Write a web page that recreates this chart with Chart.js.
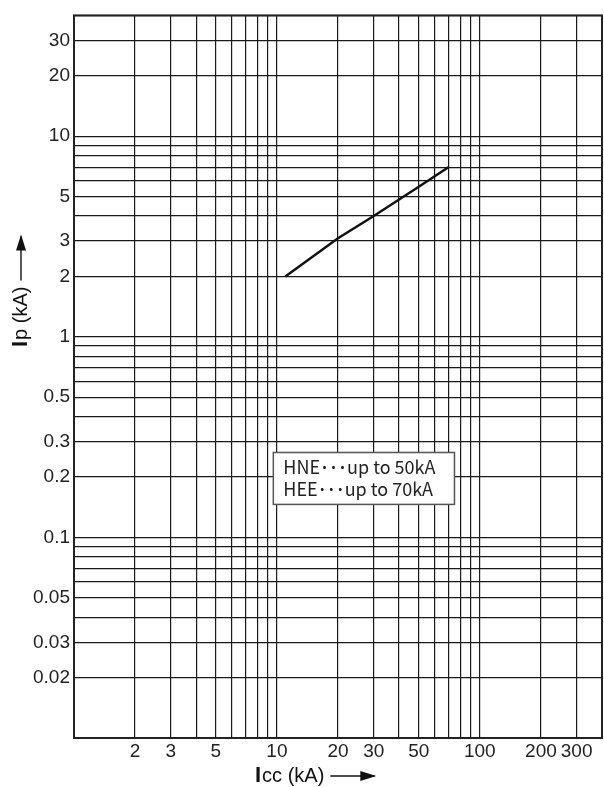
<!DOCTYPE html>
<html>
<head>
<meta charset="utf-8">
<script src="https://cdn.jsdelivr.net/npm/chart.js@4"></script>
<style>
  html, body { margin: 0; padding: 0; background: #fff; }
  #wrap { width: 604px; height: 787px; }
</style>
</head>
<body>
<div id="wrap"><canvas id="ChartContainer" width="604" height="787"></canvas></div>
<script>
// curve Ip vs Icc
const iccValues = [11, 20, 30, 50, 70];
const ipValues = [2.0, 3.1, 4.0, 5.6, 7.0];
const xTickLabels = [2, 3, 5, 10, 20, 30, 50, 100, 200, 300];
const yTickLabels = [0.02, 0.03, 0.05, 0.1, 0.2, 0.3, 0.5, 1, 2, 3, 5, 10, 20, 30];
const legendLines = ['HNE･･･up to 50kA', 'HEE･･･up to 70kA'];

const X_MIN = 1, X_MAX = 400, Y_MIN = 0.01, Y_MAX = 40;
const ink = '#1a1a1a';
const labelFont = '"Liberation Sans", Arial, sans-serif';

function gridValues(min, max) {
    var out = [];
    for (var k = -3; k <= 4; k++) {
        for (var m = 1; m <= 9; m++) {
            var v = parseFloat((m * Math.pow(10, k)).toPrecision(6));
            if (v >= min && v <= max) out.push(v);
        }
    }
    if (out[out.length - 1] !== max) out.push(max);
    return out;
}

function hasLabel(list, v) {
    return list.some(l => Math.abs(l - v) / l < 1e-6);
}

function drawArrow(ctx, x1, y1, x2, y2) {
    ctx.beginPath();
    ctx.moveTo(x1, y1);
    ctx.lineTo(x2, y2);
    ctx.lineWidth = 1.4;
    ctx.stroke();
    var a = Math.atan2(y2 - y1, x2 - x1);
    ctx.save();
    ctx.translate(x2, y2);
    ctx.rotate(a);
    ctx.beginPath();
    ctx.moveTo(2, 0);
    ctx.lineTo(-14, -5);
    ctx.lineTo(-14, 5);
    ctx.closePath();
    ctx.fill();
    ctx.restore();
}

// "I" bold + rest regular, then arrow
function drawTitle(ctx, rest) {
    ctx.font = 'bold 22px ' + labelFont;
    ctx.fillText('I', 0, 0);
    var w = ctx.measureText('I').width;
    ctx.font = '20px ' + labelFont;
    ctx.fillText(rest, w + 1, 0);
    var w2 = w + 1 + ctx.measureText(rest).width;
    drawArrow(ctx, w2 + 6, -6, w2 + 50, -6);
}

const framePlugin = {
    id: 'frame',
    afterDatasetsDraw(chart) {
        const ctx = chart.ctx;
        const area = chart.chartArea;
        const xs = chart.scales.x, ys = chart.scales.y;

        // legend box
        const bx1 = xs.getPixelForValue(9.6), bx2 = xs.getPixelForValue(75);
        const by1 = ys.getPixelForValue(0.265), by2 = ys.getPixelForValue(0.146);
        ctx.save();
        ctx.fillStyle = '#fff';
        ctx.fillRect(bx1, by1, bx2 - bx1, by2 - by1);
        ctx.strokeStyle = '#555';
        ctx.lineWidth = 1.5;
        ctx.strokeRect(bx1, by1, bx2 - bx1, by2 - by1);
        ctx.fillStyle = '#222';
        ctx.font = '18px "Noto Sans CJK JP", sans-serif';
        ctx.textBaseline = 'alphabetic';
        ctx.fillText(legendLines[0], bx1 + 10, by1 + 22);
        ctx.fillText(legendLines[1], bx1 + 10, by1 + 44);
        ctx.restore();

        // frame
        ctx.save();
        ctx.strokeStyle = '#222';
        ctx.lineWidth = 2;
        ctx.strokeRect(area.left, area.top, area.right - area.left, area.bottom - area.top);
        ctx.restore();

        // axis titles
        ctx.save();
        ctx.fillStyle = '#111';
        ctx.strokeStyle = '#111';
        ctx.textBaseline = 'alphabetic';
        ctx.translate(255, 782);
        drawTitle(ctx, 'cc (kA)');
        ctx.restore();

        ctx.save();
        ctx.fillStyle = '#111';
        ctx.strokeStyle = '#111';
        ctx.textBaseline = 'alphabetic';
        ctx.translate(27, 347);
        ctx.rotate(-Math.PI / 2);
        drawTitle(ctx, 'p (kA)');
        ctx.restore();
    }
};

new Chart(document.getElementById('ChartContainer').getContext('2d'), {
    type: 'scatter',
    data: {
        datasets: [{
            data: iccValues.map((x, i) => ({ x: x, y: ipValues[i] })),
            showLine: true,
            borderColor: '#111',
            borderWidth: 2.5,
            pointRadius: 0,
            tension: 0
        }]
    },
    options: {
        responsive: false,
        animation: false,
        devicePixelRatio: 1,
        layout: { padding: { top: 13, right: 1, left: 0, bottom: 0 } },
        plugins: {
            legend: { display: false },
            tooltip: { enabled: false }
        },
        scales: {
            x: {
                type: 'logarithmic',
                min: X_MIN,
                max: X_MAX,
                afterBuildTicks: scale => {
                    scale.ticks = gridValues(X_MIN, X_MAX).map(v => ({ value: v }));
                },
                afterFit: scale => { scale.height = 49; },
                grid: { color: ink, lineWidth: 1.2, drawTicks: false },
                border: { display: false },
                ticks: {
                    autoSkip: false,
                    maxRotation: 0,
                    padding: 2,
                    color: '#222',
                    font: { family: labelFont, size: 19 },
                    callback: value => hasLabel(xTickLabels, value) ? String(value) : ''
                }
            },
            y: {
                type: 'logarithmic',
                min: Y_MIN,
                max: Y_MAX,
                afterBuildTicks: scale => {
                    scale.ticks = gridValues(Y_MIN, Y_MAX).map(v => ({ value: v }));
                },
                afterFit: scale => { scale.width = 74; },
                grid: { color: ink, lineWidth: 1.2, drawTicks: false },
                border: { display: false },
                ticks: {
                    autoSkip: false,
                    padding: 4,
                    color: '#222',
                    font: { family: labelFont, size: 19 },
                    callback: value => hasLabel(yTickLabels, value) ? String(value) : ''
                }
            }
        }
    },
    plugins: [framePlugin]
});
</script>
</body>
</html>
